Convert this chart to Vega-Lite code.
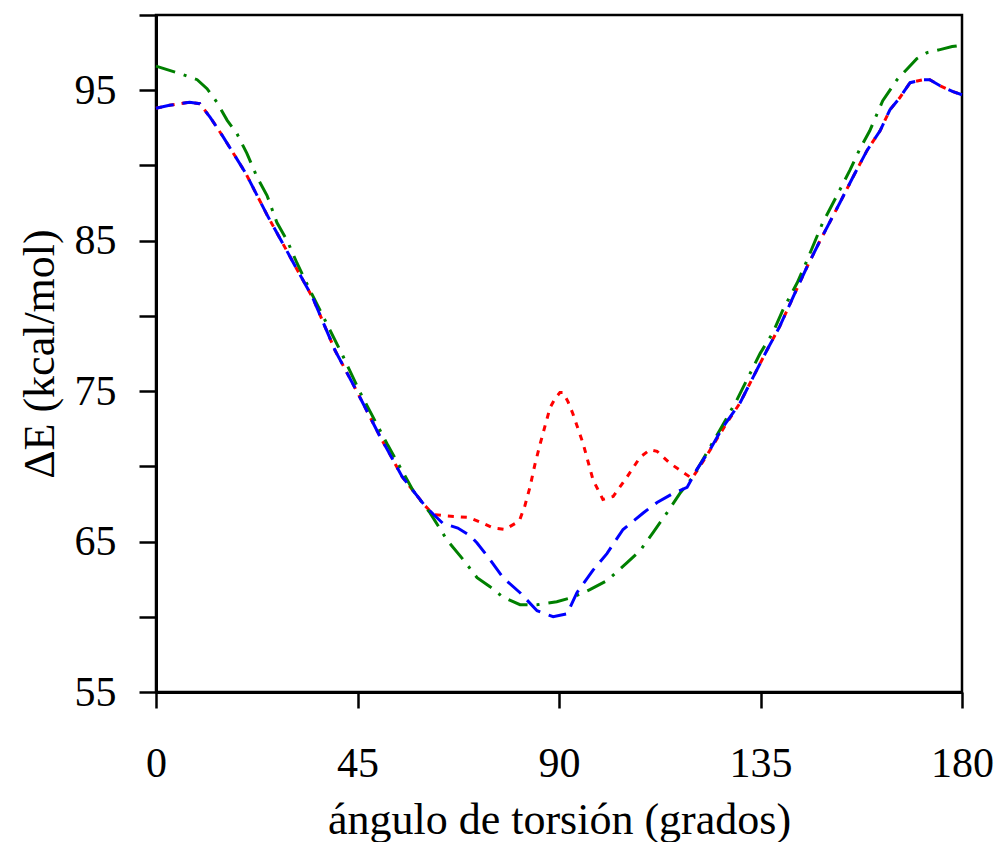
{
  "$schema": "https://vega.github.io/schema/vega-lite/v6.json",
  "autosize": "none",
  "width": 806,
  "height": 677,
  "padding": {"left": 156, "top": 15, "right": 38, "bottom": 150},
  "background": "white",
  "config": {
    "font": "Liberation Serif",
    "view": {"stroke": "black", "strokeWidth": 2.5}
  },
  "datasets": {
    "red": [
      {"x": 0, "y": 93.8}, {"x": 3, "y": 94.0}, {"x": 7.5, "y": 94.2}, {"x": 9.8, "y": 94.1}, {"x": 12.1, "y": 93.2},
      {"x": 15, "y": 91.9}, {"x": 20, "y": 89.5}, {"x": 25, "y": 86.6}, {"x": 30, "y": 83.9}, {"x": 35, "y": 81.2},
      {"x": 40, "y": 77.7}, {"x": 45, "y": 74.9}, {"x": 50, "y": 72.0}, {"x": 55, "y": 69.3}, {"x": 60, "y": 67.4},
      {"x": 62, "y": 66.8}, {"x": 65, "y": 66.7}, {"x": 69.9, "y": 66.6}, {"x": 72.4, "y": 66.3}, {"x": 75.3, "y": 65.9},
      {"x": 77.9, "y": 65.8}, {"x": 80.2, "y": 66.2}, {"x": 81.3, "y": 66.5}, {"x": 82.4, "y": 67.4}, {"x": 83.5, "y": 68.6},
      {"x": 84.6, "y": 70.1}, {"x": 85.8, "y": 71.5}, {"x": 86.9, "y": 72.7}, {"x": 88, "y": 73.9}, {"x": 89.1, "y": 74.5},
      {"x": 90.2, "y": 74.9}, {"x": 90.9, "y": 74.9}, {"x": 92, "y": 74.3}, {"x": 93.1, "y": 73.5}, {"x": 95.4, "y": 71.5},
      {"x": 97.6, "y": 69.1}, {"x": 99.8, "y": 67.8}, {"x": 102.1, "y": 68.0}, {"x": 105.2, "y": 69.3}, {"x": 108.1, "y": 70.6},
      {"x": 110.3, "y": 71.1}, {"x": 111.9, "y": 71.0}, {"x": 114.8, "y": 70.2}, {"x": 117.7, "y": 69.6}, {"x": 119.7, "y": 69.2},
      {"x": 121.5, "y": 70.0}, {"x": 124.4, "y": 71.4}, {"x": 127.5, "y": 72.9}, {"x": 130.4, "y": 74.2}, {"x": 133.3, "y": 75.9},
      {"x": 136.4, "y": 77.7}, {"x": 139.3, "y": 79.3}, {"x": 142.2, "y": 81.2}, {"x": 145.3, "y": 83.2}, {"x": 148.3, "y": 85.0},
      {"x": 152.7, "y": 87.5}, {"x": 155.6, "y": 89.2}, {"x": 158.8, "y": 91.0}, {"x": 161.7, "y": 92.3}, {"x": 163.9, "y": 93.7},
      {"x": 166.1, "y": 94.5}, {"x": 168.4, "y": 95.5}, {"x": 171.3, "y": 95.7}, {"x": 172.8, "y": 95.7}, {"x": 175.1, "y": 95.3},
      {"x": 178, "y": 94.9}, {"x": 180, "y": 94.7}
    ],
    "blue": [
      {"x": 0, "y": 93.8}, {"x": 3, "y": 94.0}, {"x": 7.5, "y": 94.2}, {"x": 9.8, "y": 94.1}, {"x": 12.1, "y": 93.2},
      {"x": 15, "y": 91.9}, {"x": 20, "y": 89.5}, {"x": 25, "y": 86.6}, {"x": 30, "y": 83.9}, {"x": 35, "y": 81.2},
      {"x": 40, "y": 77.7}, {"x": 45, "y": 74.9}, {"x": 50, "y": 72.0}, {"x": 55, "y": 69.3}, {"x": 60, "y": 67.4},
      {"x": 62, "y": 66.8}, {"x": 64.1, "y": 66.2}, {"x": 67.4, "y": 65.9}, {"x": 70.1, "y": 65.4}, {"x": 71.7, "y": 64.9},
      {"x": 74.6, "y": 63.8}, {"x": 77.5, "y": 62.6}, {"x": 81.3, "y": 61.6}, {"x": 85.1, "y": 60.4}, {"x": 88.7, "y": 60.0},
      {"x": 91.8, "y": 60.2}, {"x": 94, "y": 61.6}, {"x": 97.6, "y": 63.1}, {"x": 100.7, "y": 64.2}, {"x": 104.3, "y": 65.8},
      {"x": 108.8, "y": 66.9}, {"x": 111.9, "y": 67.6}, {"x": 115.5, "y": 68.2}, {"x": 118.6, "y": 68.6}, {"x": 120.8, "y": 69.8},
      {"x": 123.7, "y": 71.1}, {"x": 126.6, "y": 72.6}, {"x": 130.4, "y": 74.2}, {"x": 133.3, "y": 75.9},
      {"x": 136.4, "y": 77.7}, {"x": 139.3, "y": 79.3}, {"x": 142.2, "y": 81.2}, {"x": 145.3, "y": 83.2}, {"x": 148.3, "y": 85.0},
      {"x": 152.7, "y": 87.5}, {"x": 155.6, "y": 89.2}, {"x": 158.8, "y": 91.0}, {"x": 161.7, "y": 92.3}, {"x": 163.9, "y": 93.7},
      {"x": 166.1, "y": 94.5}, {"x": 168.4, "y": 95.5}, {"x": 171.3, "y": 95.7}, {"x": 172.8, "y": 95.7}, {"x": 175.1, "y": 95.3},
      {"x": 178, "y": 94.9}, {"x": 180, "y": 94.7}
    ],
    "green": [
      {"x": 0, "y": 96.6}, {"x": 5.4, "y": 96.1}, {"x": 9.2, "y": 95.7}, {"x": 11.4, "y": 95.1}, {"x": 13.6, "y": 94.2},
      {"x": 15.9, "y": 93.0}, {"x": 18.1, "y": 92.1}, {"x": 20.3, "y": 90.8}, {"x": 22.6, "y": 89.2}, {"x": 24.8, "y": 88.0},
      {"x": 27, "y": 86.2}, {"x": 29.3, "y": 85.0}, {"x": 31.5, "y": 83.5}, {"x": 34.4, "y": 81.7}, {"x": 41.8, "y": 77.3},
      {"x": 45.6, "y": 74.9}, {"x": 51.6, "y": 71.5}, {"x": 57.4, "y": 68.4}, {"x": 61.2, "y": 66.9}, {"x": 65, "y": 65.1},
      {"x": 68.6, "y": 63.8}, {"x": 71.7, "y": 62.6}, {"x": 74.6, "y": 62.0}, {"x": 77.5, "y": 61.3}, {"x": 81.3, "y": 60.8},
      {"x": 85.1, "y": 60.8}, {"x": 89.5, "y": 61.0}, {"x": 93.1, "y": 61.3}, {"x": 96.9, "y": 61.8}, {"x": 100.7, "y": 62.4},
      {"x": 105.2, "y": 63.6}, {"x": 108.1, "y": 64.4}, {"x": 111, "y": 65.6}, {"x": 114.1, "y": 66.9}, {"x": 117, "y": 68.2},
      {"x": 119.9, "y": 69.3}, {"x": 123, "y": 70.9}, {"x": 125.9, "y": 72.4}, {"x": 129.7, "y": 74.4}, {"x": 134.9, "y": 77.5},
      {"x": 137.8, "y": 78.9}, {"x": 140, "y": 80.4}, {"x": 143.2, "y": 82.2}, {"x": 145.4, "y": 83.7}, {"x": 148.9, "y": 86.2},
      {"x": 151.2, "y": 87.5}, {"x": 155, "y": 89.7}, {"x": 157.2, "y": 91.1}, {"x": 159.4, "y": 92.3}, {"x": 162.3, "y": 94.3},
      {"x": 165.5, "y": 95.7}, {"x": 167.7, "y": 96.4}, {"x": 169.9, "y": 97.1}, {"x": 172.2, "y": 97.5}, {"x": 175.1, "y": 97.7},
      {"x": 177.8, "y": 97.9}, {"x": 180, "y": 98.0}
    ]
  },
  "encoding": {
    "x": {
      "field": "x", "type": "quantitative",
      "scale": {"domain": [0, 180], "nice": false, "zero": false},
      "axis": {
        "values": [0, 45, 90, 135, 180],
        "title": "ángulo de torsión (grados)",
        "grid": false,
        "domainColor": "black", "domainWidth": 3,
        "tickColor": "black", "tickWidth": 2.5, "tickSize": 16,
        "labelFont": "Liberation Serif", "labelFontSize": 42, "labelColor": "black", "labelPadding": 35,
        "labelFlush": false,
        "titleFont": "Liberation Serif", "titleFontSize": 44, "titleFontWeight": "normal", "titleColor": "black", "titlePadding": 14
      }
    },
    "y": {
      "field": "y", "type": "quantitative",
      "scale": {"domain": [55, 100], "nice": false, "zero": false},
      "axis": {
        "values": [55, 60, 65, 70, 75, 80, 85, 90, 95, 100],
        "labelExpr": "datum.value % 10 == 5 ? datum.label : ''",
        "title": "ΔE  (kcal/mol)",
        "grid": false,
        "domainColor": "black", "domainWidth": 3,
        "tickColor": "black", "tickWidth": 2.5, "tickSize": 17,
        "labelFont": "Liberation Serif", "labelFontSize": 42, "labelColor": "black", "labelPadding": 23,
        "labelFlush": false,
        "titleFont": "Liberation Serif", "titleFontSize": 44, "titleFontWeight": "normal", "titleColor": "black", "titlePadding": 12,
        "encode": {"ticks": {"update": {"x2": {"signal": "datum.value % 10 == 5 ? -17 : -12"}}}}
      }
    }
  },
  "layer": [
    {
      "data": {"name": "red"},
      "mark": {"type": "line", "color": "#ff0000", "strokeWidth": 3, "strokeDash": [6, 7]}
    },
    {
      "data": {"name": "green"},
      "mark": {"type": "line", "color": "#008000", "strokeWidth": 3, "strokeDash": [20, 9, 3, 9]}
    },
    {
      "data": {"name": "blue"},
      "mark": {"type": "line", "color": "#0000ff", "strokeWidth": 3, "strokeDash": [18, 9]}
    }
  ]
}
